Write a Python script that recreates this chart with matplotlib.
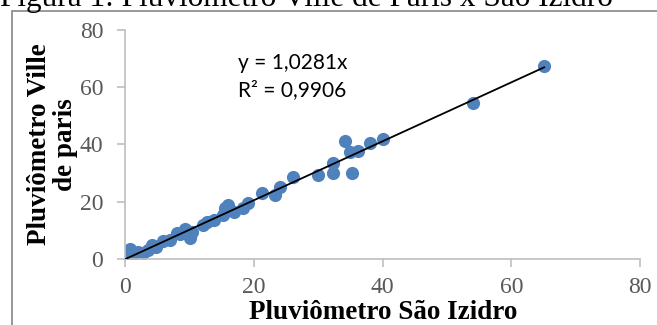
import matplotlib
matplotlib.use("Agg")
import matplotlib.pyplot as plt
import matplotlib.patches as patches
import numpy as np

# Rainfall readings (mm): São Izidro gauge vs Ville de Paris gauge
sao_izidro = [0.0, 0.2, 0.3, 0.5, 0.7, 1.0, 1.5, 2.0, 2.8, 3.5, 4.1, 4.8,
              5.9, 7.0, 8.0, 8.5, 9.3, 10.0, 10.3, 12.1, 12.6, 13.7, 15.2,
              15.5, 16.0, 16.8, 18.3, 19.1, 21.2, 23.3, 24.0, 26.1, 30.0,
              32.2, 32.2, 34.1, 34.9, 35.2, 36.2, 38.1, 40.1, 54.1, 65.1]
ville_paris = [0.5, 0.8, 2.5, 1.2, 3.4, 1.5, 2.0, 2.6, 2.0, 3.0, 4.9, 4.2,
               6.2, 6.8, 9.0, 8.7, 10.5, 7.2, 9.5, 11.9, 13.0, 13.6, 15.4,
               17.7, 18.9, 16.5, 17.7, 19.6, 23.0, 22.4, 25.3, 28.5, 29.2,
               33.6, 29.9, 41.3, 37.5, 29.9, 37.6, 40.6, 41.8, 54.4, 67.4]
slope = 1.0281
r_squared = 0.9906

x_ticks = [0, 20, 40, 60, 80]
y_ticks = [0, 20, 40, 60, 80]

point_color = "#4F81BD"
axis_grey = "#BFBFBF"
label_grey = "#595959"

fig = plt.figure(figsize=(6.57, 3.25), dpi=100)
ax = fig.add_axes([0.191, 0.203, 0.783, 0.705])

ax.scatter(sao_izidro, ville_paris, s=90, color=point_color, zorder=2,
           linewidths=0)

# Trendline through the origin
xs = np.array([0, max(sao_izidro)])
ax.plot(xs, slope * xs, color="black", lw=1.3, zorder=3)

ax.set_xlim(0, 80)
ax.set_ylim(0, 80)
ax.set_xticks(x_ticks)
ax.set_yticks(y_ticks)

for side in ("top", "right"):
    ax.spines[side].set_visible(False)
for side in ("left", "bottom"):
    ax.spines[side].set_color(axis_grey)
    ax.spines[side].set_linewidth(1.2)
ax.tick_params(direction="out", length=6, width=1.2, color=axis_grey,
               labelcolor=label_grey, labelsize=17)
ax.tick_params(axis="x", pad=7)
ax.tick_params(axis="y", pad=10)
for lbl in ax.get_xticklabels() + ax.get_yticklabels():
    lbl.set_family("Liberation Serif")

ax.set_xlabel("Pluviômetro São Izidro", family="Liberation Serif",
              fontweight="bold", fontsize=19.5, labelpad=1.5)
ax.set_ylabel("Pluviômetro Ville\nde paris", family="Liberation Serif",
              fontweight="bold", fontsize=19.5, linespacing=1.05)
ax.yaxis.set_label_coords(-0.092, 0.5)

eq = "y = {:.4f}x\nR² = {:.4f}".format(slope, r_squared).replace(".", ",")
ax.text(17.5, 72, eq, family="Lato", fontsize=15, color="black",
        va="top", ha="left", linespacing=1.45)

# Chart frame and caption above it
fig.patches.append(patches.Rectangle((12 / 657, -0.1), 1.2, 1 - 11 / 325 + 0.1,
                                     transform=fig.transFigure, fill=False,
                                     edgecolor="#868686", lw=1.2))
fig.text(0.0, 1 - 6 / 325, "Figura 1: Pluviômetro Ville de Paris x São Izidro",
         family="Liberation Serif", fontsize=22.5, va="baseline", ha="left")

fig.savefig("out.png", dpi=100)
